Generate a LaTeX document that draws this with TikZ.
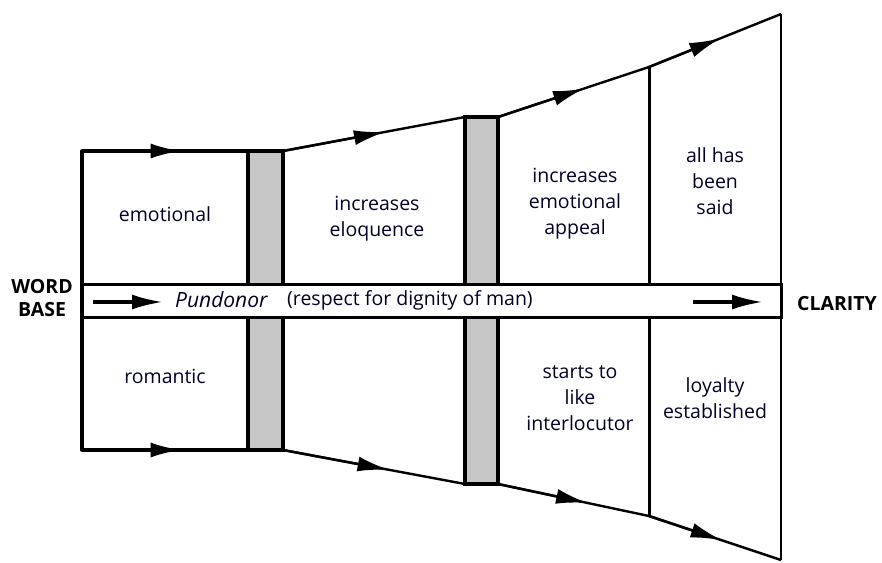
\documentclass[tikz,border=0pt]{standalone}
\usepackage{fontspec}
\setmainfont{Open Sans}
\usetikzlibrary{arrows.meta,calc}
\tikzset{
  tipA/.style={-{Latex[length=31pt,width=15pt]}},
  flowline/.style={line width=2.4pt},
  heavyline/.style={line width=3.6pt},
  thickline/.style={line width=3.6pt, line cap=round},
  bar/.style={draw, line width=3.6pt, fill=black!22},
  band/.style={draw, line width=3pt, fill=white},
  bandarrow/.style={line width=3.4pt, tipA},
  lbl/.style={align=center, inner sep=0pt, font=\fontsize{19.5}{26}\selectfont, text=black!85!blue},
  endlbl/.style={align=center, inner sep=0pt, font=\fontsize{19.5}{23}\selectfont\bfseries},
}
\newcommand{\flowseg}[4]{%
  \draw[#1] (#2) -- (#3);
  \draw[#1, tipA] (#2) -- ($(#2)!#4!(#3)$);}
\begin{document}
\begin{tikzpicture}[x=1pt,y=-1pt]
\useasboundingbox (0,0) rectangle (882,562);
% corners
\coordinate (A0) at (82,151);  \coordinate (A0b) at (82,450);
\coordinate (A1) at (248,151); \coordinate (A1b) at (248,450);
\coordinate (B1) at (283,151); \coordinate (B1b) at (283,450);
\coordinate (C0) at (465,117); \coordinate (C0b) at (465,484);
\coordinate (D0) at (498,117); \coordinate (D0b) at (498,484);
\coordinate (E0) at (649,67);  \coordinate (E0b) at (649,516);
\coordinate (F0) at (781,14);  \coordinate (F0b) at (781,560);
\coordinate (BL) at (82,284);  \coordinate (BR) at (781,317);
\coordinate (la0) at (93,302); \coordinate (la1) at (163,302);
\coordinate (ra0) at (693,302); \coordinate (ra1) at (763,302);
% outline
\draw[thickline] (A0b) -- (A0);
\flowseg{heavyline}{A0}{A1}{0.6}
\flowseg{heavyline}{A0b}{A1b}{0.6}
\flowseg{flowline}{B1}{C0}{0.56}
\flowseg{flowline}{B1b}{C0b}{0.58}
\flowseg{flowline}{D0}{E0}{0.57}
\flowseg{flowline}{D0b}{E0b}{0.59}
\flowseg{flowline}{E0}{F0}{0.54}
\flowseg{flowline}{E0b}{F0b}{0.55}
\draw[line width=3pt] (E0) -- (E0b);
\draw[line width=2.4pt] (F0) -- (F0b);
% bars
\draw[bar] (A1) rectangle (B1b);
\draw[bar] (C0) rectangle (D0b);
% band
\draw[band] (BL) rectangle (BR);
\draw[bandarrow] (la0) -- (la1);
\draw[bandarrow] (ra0) -- (ra1);
\node[lbl, anchor=west, font=\fontsize{21}{26}\selectfont] (pun) at (175,300) {\textit{Pundonor}};
\node[lbl, anchor=west] (resp) at (287,300) {(respect for dignity of man)};
% labels
\node[lbl] (emo) at (165,214) {emotional};
\node[lbl] (elo) at (377,219) {increases\\eloquence};
\node[lbl] (app) at (575,204) {increases\\emotional\\appeal};
\node[lbl] (said) at (715,181) {all has\\been\\said};
\node[lbl] (rom) at (165,376) {romantic};
\node[lbl] (like) at (580,398) {starts to\\like\\interlocutor};
\node[lbl] (loy) at (715,398) {loyalty\\established};
\node[endlbl] (wb) at (42,298) {WORD\\BASE};
\node[endlbl] (cl) at (837,304) {CLARITY};
\end{tikzpicture}
\end{document}
